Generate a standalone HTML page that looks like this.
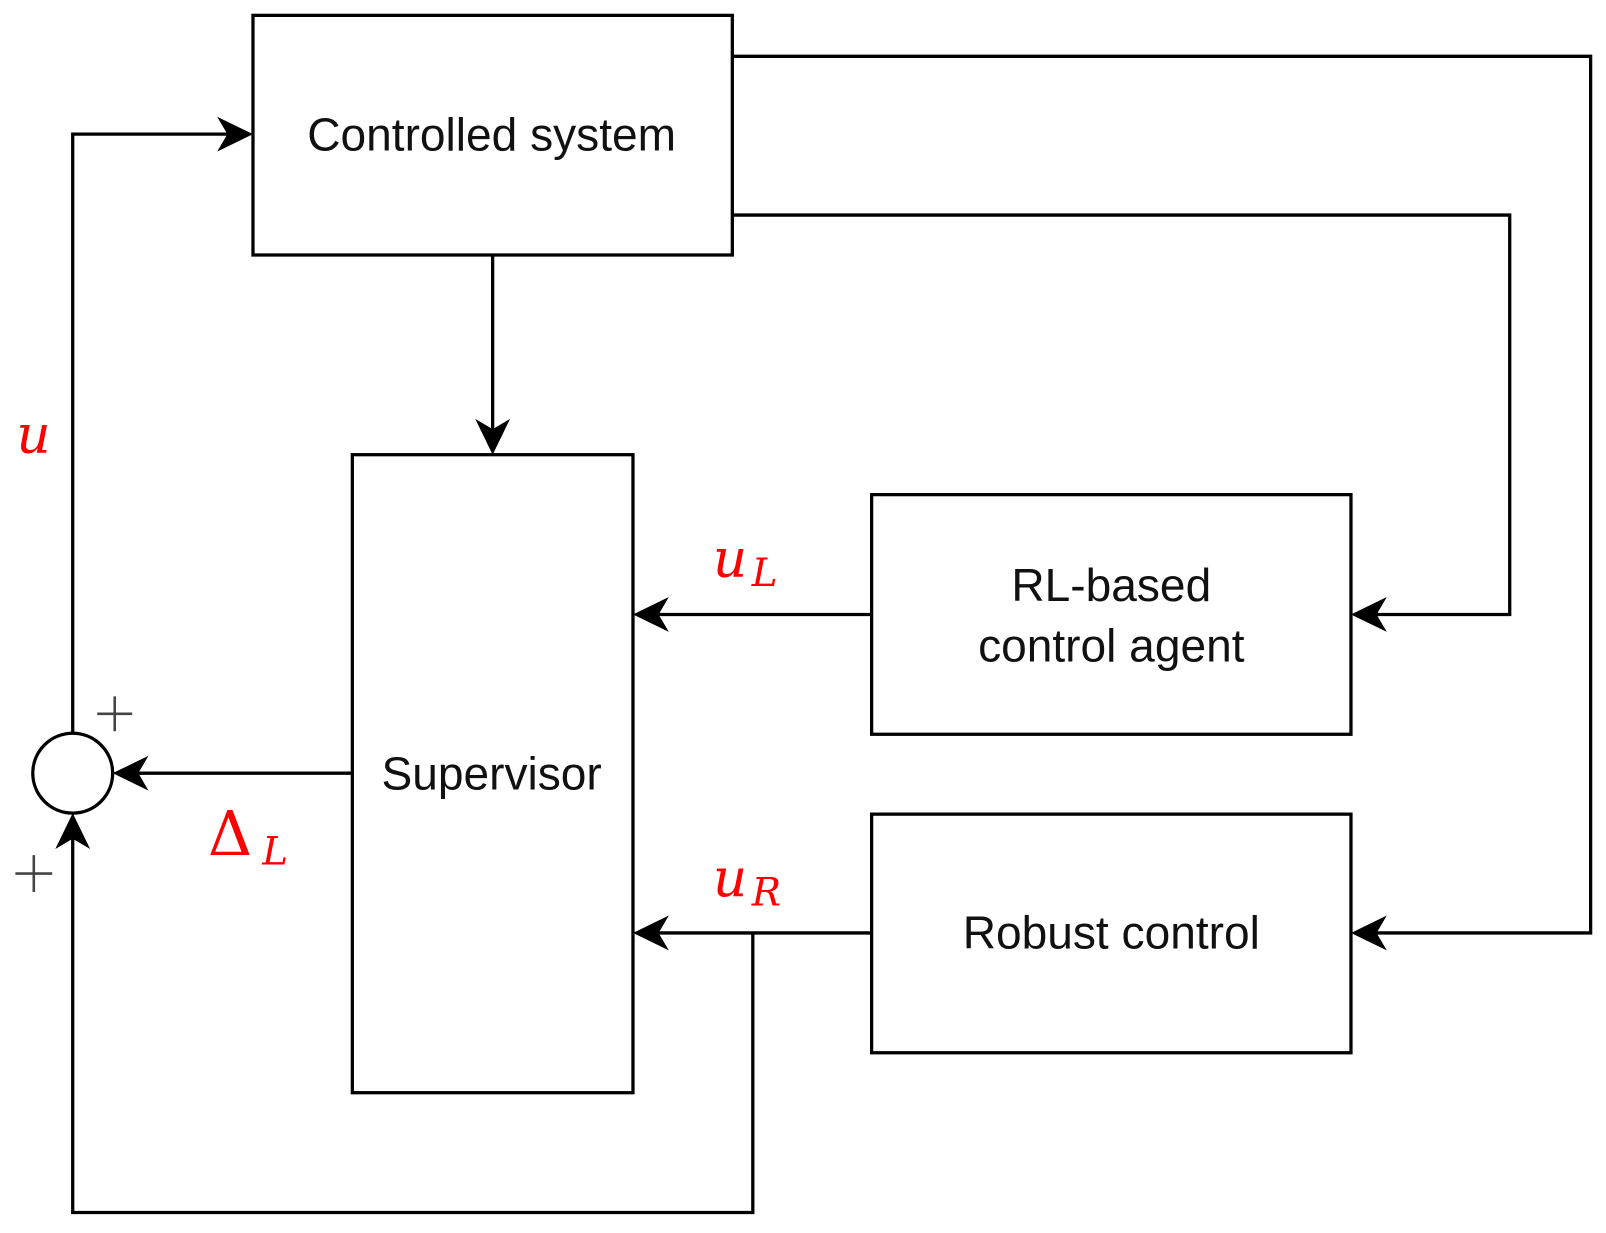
<!DOCTYPE html>
<html><head><meta charset="utf-8"><style>html,body{margin:0;padding:0;background:#fff}svg{display:block}</style></head>
<body>
<svg width="1606" height="1233" viewBox="0 0 1568 1204" preserveAspectRatio="none" xmlns="http://www.w3.org/2000/svg">
<g fill="none" stroke="#000" stroke-width="3.2">
<rect x="247" y="15" width="468" height="234"/>
<rect x="344" y="444" width="274" height="623"/>
<rect x="851" y="483" width="468" height="234"/>
<rect x="851" y="795" width="468" height="233"/>
<circle cx="71" cy="755" r="39"/>
<polyline points="71,716 71,131 240,131"/>
<polyline points="481,249 481,438"/>
<polyline points="715,55 1553,55 1553,911 1325,911"/>
<polyline points="715,210 1474,210 1474,600 1325,600"/>
<polyline points="851,600 624,600"/>
<polyline points="851,911 624,911"/>
<polyline points="735,911 735,1184 71,1184 71,800"/>
<polyline points="344,755 116,755"/>
</g>
<g fill="#000">
<polygon points="247,131 212,114 222,131 212,148"/>
<polygon points="481,444 464,409 481,419 498,409"/>
<polygon points="1319,911 1354,894 1344,911 1354,928"/>
<polygon points="1319,600 1354,583 1344,600 1354,617"/>
<polygon points="618,600 653,583 643,600 653,617"/>
<polygon points="618,911 653,894 643,911 653,928"/>
<polygon points="110,755 145,738 135,755 145,772"/>
<polygon points="71,794 54,829 71,819 88,829"/>
</g>
<g font-family="Liberation Sans, sans-serif" font-size="45" fill="#111" text-anchor="middle">
<text x="480" y="147">Controlled system</text>
<text x="480" y="771">Supervisor</text>
<text x="1085" y="587">RL-based</text>
<text x="1085" y="646">control agent</text>
<text x="1085" y="926">Robust control</text>
</g>
<g font-family="DejaVu Serif, serif" font-style="italic" fill="#f00">
<text x="16" y="442" font-size="52">u</text>
<text x="696" y="563" font-size="52">u</text><text x="734" y="572" font-size="38">L</text>
<text x="696" y="875" font-size="52">u</text><text x="734" y="884" font-size="38">R</text>
<text x="203" y="835" font-size="60" font-style="normal">Δ</text><text x="256" y="844" font-size="38">L</text>
</g>
<g stroke="#444" stroke-width="2.5">
<line x1="95" y1="697" x2="129" y2="697"/><line x1="112" y1="680" x2="112" y2="714"/>
<line x1="15" y1="853" x2="51" y2="853"/><line x1="33" y1="835" x2="33" y2="871"/>
</g>
</svg>
</body></html>
